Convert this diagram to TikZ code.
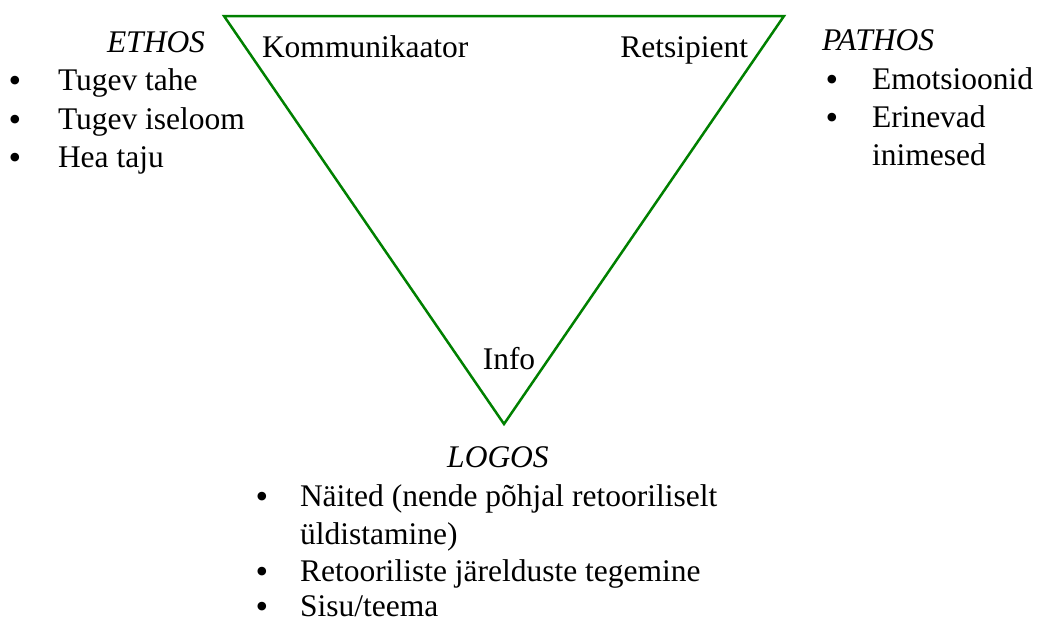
\documentclass[tikz,border=0pt]{standalone}
\usepackage{fontspec}
\setmainfont{Liberation Serif}
\definecolor{trigreen}{RGB}{0,128,0}
\begin{document}
\begin{tikzpicture}[x=1pt,y=-1pt,
  txt/.style={inner sep=0pt,outer sep=0pt,anchor=base west,font=\fontsize{31.5}{38}\selectfont},
  head/.style={txt,font=\fontsize{31.5}{38}\selectfont\itshape},
  bul/.style={inner sep=0pt,outer sep=0pt,anchor=base,yshift=-2pt,text height=16pt,text depth=0pt,font=\fontsize{36}{36}\selectfont},
  edge/.style={draw=trigreen,line width=2.5pt,line join=miter}]
\useasboundingbox (0,0) rectangle (1038,621);
% triangle
\coordinate (tl) at (224,16);
\coordinate (tr) at (784,16);
\coordinate (bt) at (504,424);
\draw[edge] (tl) -- (tr) -- (bt) -- cycle;
% corner labels
\node[txt] (komm) at (262,57) {Kommunikaator};
\node[txt,anchor=base east] (rets) at (748,57) {Retsipient};
\node[txt,anchor=base] (info) at (509,369) {Info};
% ETHOS
\node[head] (ethos) at (107,52) {ETHOS};
\node[bul] (eb1) at (15,90) {\textbullet};
\node[txt] (e1) at (58,90) {Tugev tahe};
\node[bul] (eb2) at (15,129) {\textbullet};
\node[txt] (e2) at (58,129) {Tugev iseloom};
\node[bul] (eb3) at (15,167) {\textbullet};
\node[txt] (e3) at (58,167) {Hea taju};
% PATHOS
\node[head] (pathos) at (822,50) {PATHOS};
\node[bul] (pb1) at (832,89) {\textbullet};
\node[txt] (p1) at (872,89) {Emotsioonid};
\node[bul] (pb2) at (832,127) {\textbullet};
\node[txt] (p2) at (872,127) {Erinevad};
\node[txt] (p3) at (872,165) {inimesed};
% LOGOS
\node[head,anchor=base] (logos) at (498,467) {LOGOS};
\node[bul] (lb1) at (262,506) {\textbullet};
\node[txt] (l1) at (300,506) {Näited (nende põhjal retooriliselt};
\node[txt] (l2) at (300,544) {üldistamine)};
\node[bul] (lb3) at (262,581) {\textbullet};
\node[txt] (l3) at (300,581) {Retooriliste järelduste tegemine};
\node[bul] (lb4) at (262,616) {\textbullet};
\node[txt] (l4) at (300,616) {Sisu/teema};
\end{tikzpicture}
\end{document}
